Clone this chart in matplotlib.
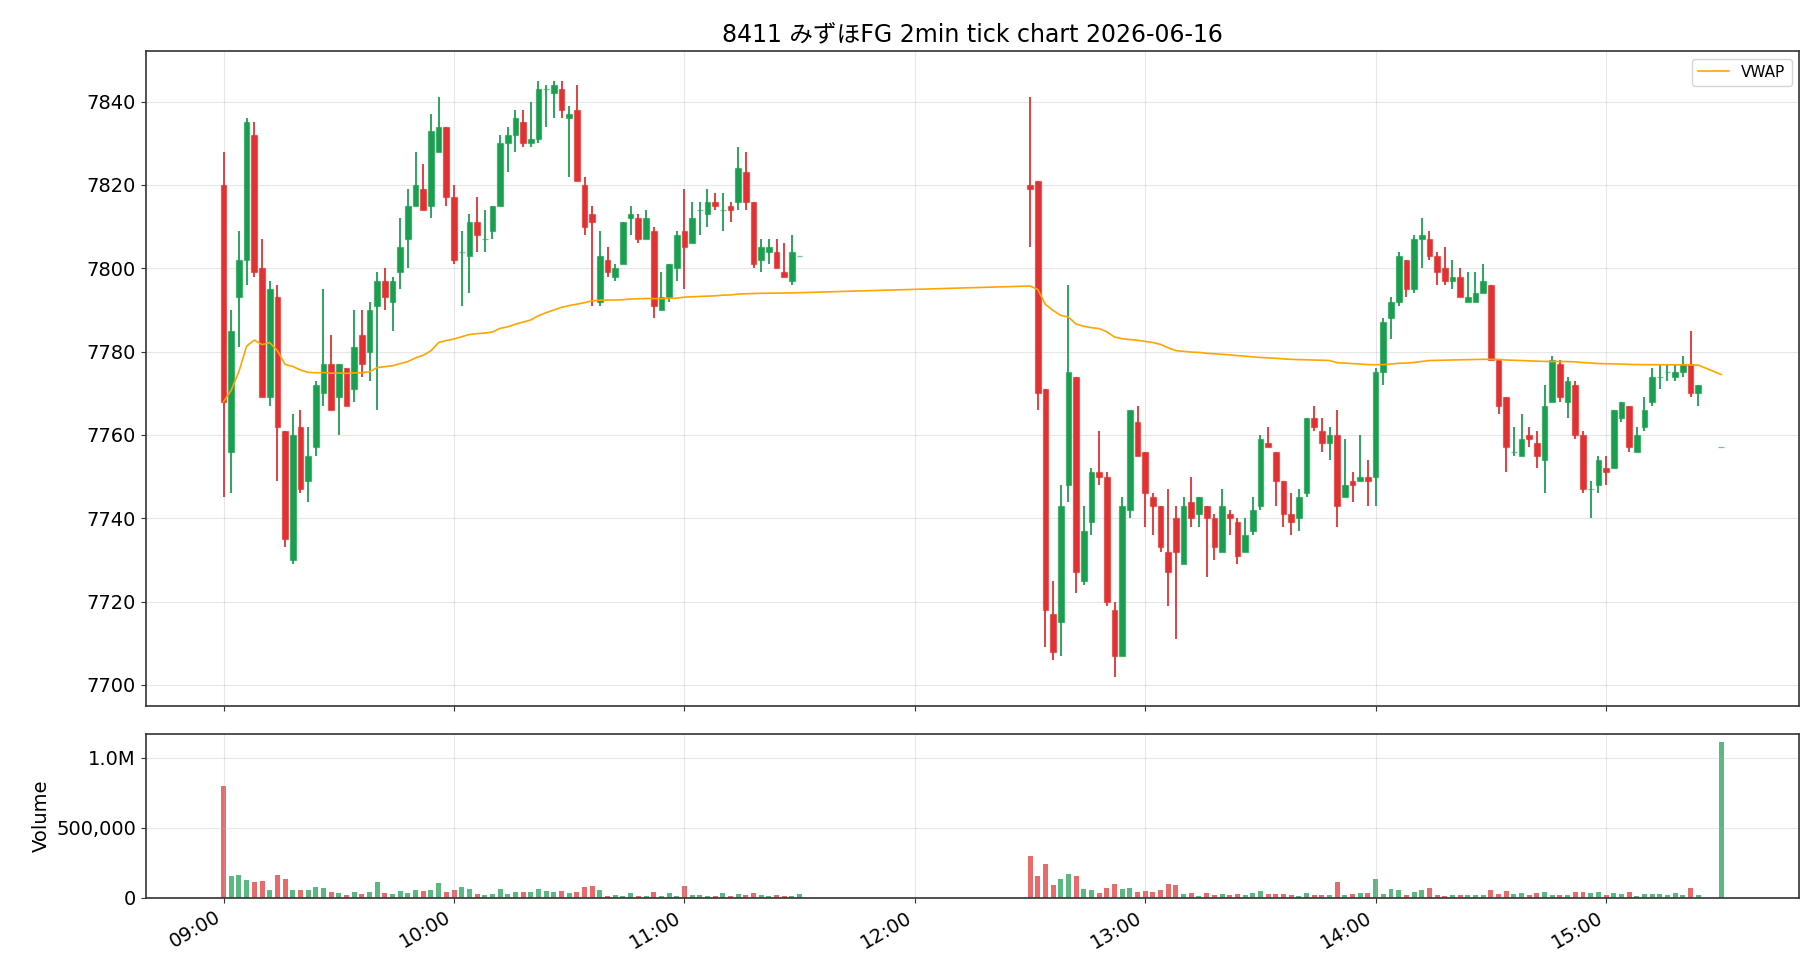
import matplotlib
matplotlib.use("Agg")
import matplotlib.pyplot as plt
import matplotlib.dates as mdates
import matplotlib.ticker as mticker
from matplotlib.colors import to_rgba
import numpy as np
import pandas as pd

plt.rcParams['font.family'] = ['DejaVu Sans', 'Noto Sans CJK JP']
plt.rcParams['axes.edgecolor'] = '#333333'
plt.rcParams['axes.linewidth'] = 1.2
plt.rcParams['xtick.color'] = '#333333'
plt.rcParams['ytick.color'] = '#333333'
plt.rcParams['xtick.labelcolor'] = 'black'
plt.rcParams['ytick.labelcolor'] = 'black'

# ---- morning session 09:00 - 11:30 (2 min bars)
am_open = [7820, 7756, 7793, 7802, 7832, 7800, 7769, 7793, 7761, 7730,
           7762, 7749, 7757, 7770, 7777, 7769, 7776, 7771, 7784, 7780,
           7791, 7797, 7792, 7799, 7807, 7815, 7819, 7815, 7828, 7834,
           7817, 7804, 7803, 7811, 7807, 7809, 7815, 7830, 7832, 7835,
           7830, 7831, 7843, 7842, 7843, 7836, 7838, 7820, 7813, 7792,
           7802, 7798, 7801, 7812, 7812, 7807, 7809, 7790, 7793, 7800,
           7809, 7806, 7814, 7813, 7816, 7814, 7815, 7816, 7823, 7816,
           7802, 7804, 7804, 7799, 7797, 7803]
am_high = [7828, 7790, 7809, 7836, 7835, 7807, 7797, 7796, 7761, 7765,
           7766, 7762, 7773, 7795, 7784, 7777, 7776, 7790, 7790, 7792,
           7799, 7800, 7798, 7812, 7819, 7828, 7825, 7837, 7841, 7834,
           7820, 7809, 7813, 7817, 7814, 7815, 7832, 7834, 7838, 7838,
           7840, 7845, 7844, 7845, 7845, 7839, 7844, 7822, 7815, 7809,
           7805, 7801, 7811, 7815, 7813, 7814, 7810, 7799, 7801, 7809,
           7819, 7816, 7816, 7819, 7818, 7818, 7816, 7829, 7828, 7816,
           7807, 7807, 7807, 7806, 7808, 7803]
am_low = [7745, 7746, 7781, 7796, 7798, 7769, 7767, 7749, 7733, 7729,
          7746, 7744, 7755, 7767, 7766, 7760, 7767, 7768, 7774, 7773,
          7766, 7790, 7785, 7795, 7800, 7815, 7814, 7812, 7828, 7815,
          7801, 7791, 7794, 7804, 7804, 7807, 7815, 7823, 7828, 7829,
          7829, 7830, 7834, 7836, 7836, 7822, 7821, 7808, 7791, 7791,
          7798, 7797, 7801, 7808, 7806, 7807, 7788, 7790, 7792, 7797,
          7795, 7806, 7808, 7810, 7814, 7809, 7811, 7814, 7814, 7800,
          7799, 7801, 7800, 7798, 7796, 7803]
am_close = [7768, 7785, 7802, 7835, 7799, 7769, 7795, 7762, 7735, 7760,
            7747, 7755, 7772, 7777, 7766, 7777, 7767, 7781, 7777, 7790,
            7797, 7793, 7797, 7805, 7815, 7820, 7814, 7833, 7834, 7817,
            7802, 7804, 7811, 7808, 7807, 7815, 7830, 7832, 7836, 7830,
            7831, 7843, 7843, 7844, 7838, 7837, 7821, 7810, 7811, 7803,
            7799, 7800, 7811, 7813, 7807, 7812, 7791, 7793, 7801, 7808,
            7805, 7812, 7814, 7816, 7815, 7814, 7814, 7824, 7816, 7801,
            7805, 7805, 7800, 7798, 7804, 7803]
am_volume = [801, 154, 161, 126, 111, 118, 55, 161, 133, 55,
             55, 55, 76, 69, 40, 33, 19, 40, 26, 40,
             111, 33, 26, 47, 33, 55, 47, 55, 104, 40,
             55, 76, 62, 26, 19, 26, 62, 26, 40, 40,
             40, 62, 47, 40, 47, 33, 40, 76, 83, 55,
             12, 19, 12, 33, 12, 12, 40, 12, 33, 12,
             83, 19, 19, 12, 12, 33, 12, 26, 19, 33,
             19, 12, 19, 12, 12, 26]

# ---- afternoon session 12:30 - 15:24 plus closing auction 15:30
pm_open = [7820, 7821, 7771, 7717, 7715, 7748, 7774, 7725, 7739, 7751,
           7750, 7718, 7707, 7742, 7763, 7756, 7745, 7743, 7732, 7740,
           7729, 7744, 7741, 7743, 7740, 7732, 7741, 7739, 7732, 7737,
           7743, 7758, 7756, 7749, 7741, 7740, 7746, 7764, 7761, 7758,
           7760, 7745, 7749, 7749, 7750, 7750, 7775, 7788, 7792, 7802,
           7795, 7807, 7807, 7803, 7800, 7797, 7798, 7792, 7792, 7794,
           7796, 7778, 7769, 7756, 7755, 7760, 7758, 7754, 7768, 7777,
           7768, 7772, 7760, 7747, 7748, 7752, 7752, 7764, 7767, 7756,
           7762, 7768, 7774, 7775, 7774, 7775, 7777, 7770, 7757]
pm_high = [7841, 7821, 7771, 7725, 7748, 7796, 7774, 7743, 7752, 7761,
           7751, 7720, 7745, 7766, 7767, 7756, 7746, 7743, 7747, 7743,
           7745, 7750, 7745, 7743, 7741, 7747, 7742, 7740, 7740, 7745,
           7760, 7762, 7756, 7749, 7746, 7747, 7764, 7767, 7764, 7762,
           7766, 7759, 7751, 7760, 7754, 7776, 7788, 7793, 7804, 7802,
           7808, 7812, 7809, 7804, 7805, 7802, 7800, 7799, 7799, 7801,
           7796, 7778, 7769, 7762, 7765, 7762, 7761, 7772, 7779, 7778,
           7774, 7773, 7761, 7749, 7755, 7755, 7766, 7768, 7767, 7762,
           7769, 7776, 7777, 7777, 7777, 7779, 7785, 7772, 7757]
pm_low = [7805, 7766, 7709, 7706, 7707, 7744, 7722, 7724, 7736, 7748,
          7719, 7702, 7707, 7740, 7755, 7738, 7736, 7732, 7719, 7711,
          7729, 7738, 7738, 7726, 7730, 7732, 7736, 7729, 7732, 7736,
          7742, 7757, 7743, 7738, 7736, 7737, 7745, 7761, 7756, 7754,
          7738, 7745, 7744, 7749, 7743, 7743, 7772, 7783, 7791, 7793,
          7794, 7800, 7802, 7796, 7796, 7795, 7793, 7792, 7792, 7794,
          7778, 7765, 7751, 7755, 7755, 7757, 7752, 7746, 7768, 7768,
          7764, 7759, 7746, 7740, 7746, 7748, 7752, 7763, 7756, 7756,
          7761, 7767, 7771, 7773, 7773, 7774, 7769, 7767, 7757]
pm_close = [7819, 7770, 7718, 7708, 7743, 7775, 7727, 7737, 7751, 7750,
            7720, 7707, 7743, 7766, 7755, 7746, 7743, 7733, 7727, 7732,
            7743, 7740, 7745, 7740, 7733, 7743, 7740, 7731, 7736, 7742,
            7759, 7757, 7749, 7741, 7739, 7745, 7764, 7762, 7758, 7760,
            7743, 7748, 7748, 7750, 7749, 7775, 7787, 7792, 7803, 7795,
            7807, 7808, 7803, 7799, 7797, 7798, 7793, 7793, 7794, 7797,
            7778, 7767, 7757, 7756, 7759, 7759, 7755, 7767, 7778, 7769,
            7773, 7760, 7747, 7747, 7754, 7751, 7766, 7768, 7757, 7760,
            7766, 7774, 7774, 7775, 7775, 7777, 7770, 7772, 7757]
pm_volume = [303, 154, 239, 90, 133, 168, 154, 62, 55, 33,
             69, 97, 62, 69, 40, 47, 40, 55, 97, 90,
             26, 33, 12, 33, 19, 26, 19, 26, 19, 33,
             47, 26, 26, 26, 19, 12, 33, 19, 19, 19,
             111, 19, 26, 33, 33, 133, 26, 62, 55, 19,
             40, 55, 69, 19, 12, 19, 19, 19, 19, 19,
             55, 26, 47, 26, 33, 19, 33, 40, 19, 19,
             19, 40, 40, 33, 40, 19, 33, 26, 40, 12,
             26, 26, 26, 19, 33, 19, 69, 19, 1114]

times = (list(pd.date_range('2026-06-16 09:00', '2026-06-16 11:30', freq='2min'))
         + list(pd.date_range('2026-06-16 12:30', '2026-06-16 15:24', freq='2min'))
         + [pd.Timestamp('2026-06-16 15:30')])

o = np.array(am_open + pm_open, dtype=float)
h = np.array(am_high + pm_high, dtype=float)
l = np.array(am_low + pm_low, dtype=float)
c = np.array(am_close + pm_close, dtype=float)
vol = np.array(am_volume + pm_volume, dtype=float) * 1000
x = mdates.date2num(times)

vwap = np.cumsum(c * vol) / np.cumsum(vol)

up_col = '#1a9f50'
dn_col = '#e03232'
cols = [up_col if cc >= oo else dn_col for oo, cc in zip(o, c)]
edge = [to_rgba(cc, 0.6) for cc in cols]
bar_w = 2 / 1440

fig, (ax, axv) = plt.subplots(2, 1, sharex=True, figsize=(18.2, 9.8), dpi=100,
                              gridspec_kw={'height_ratios': [4, 1]})

ax.vlines(x, l, h, colors=cols, linewidth=1.3, zorder=2)
ax.bar(x, np.abs(c - o), bottom=np.minimum(o, c), width=bar_w * 0.74,
       color=cols, edgecolor=edge, linewidth=0.9, zorder=3)
ax.plot(x, vwap, color='orange', linewidth=1.2, label='VWAP', zorder=4)
ax.grid(True, alpha=0.3)
ax.legend(loc='upper right', fontsize=11)
ax.set_title('8411 みずほFG 2min tick chart 2026-06-16', fontsize=17)
ax.tick_params(labelsize=14)

axv.bar(x, vol, width=bar_w * 0.65, color=cols, alpha=0.72)
axv.grid(True, alpha=0.3)
axv.set_ylabel('Volume', fontsize=14)
axv.tick_params(labelsize=14)

def vol_fmt(v, pos):
    if v >= 1e6:
        return f"{v / 1e6:.1f}M"
    return f"{int(v):,}"

axv.yaxis.set_major_formatter(mticker.FuncFormatter(vol_fmt))
axv.yaxis.set_major_locator(mticker.MultipleLocator(500000))
axv.xaxis.set_major_locator(mdates.HourLocator())
axv.xaxis.set_major_formatter(mdates.DateFormatter('%H:%M'))

fig.autofmt_xdate(bottom=0.0837, rotation=30, ha='right')
fig.subplots_adjust(left=0.080, right=0.9886, top=0.948, bottom=0.0837, hspace=0.068)

fig.savefig('out.png', dpi=100)
